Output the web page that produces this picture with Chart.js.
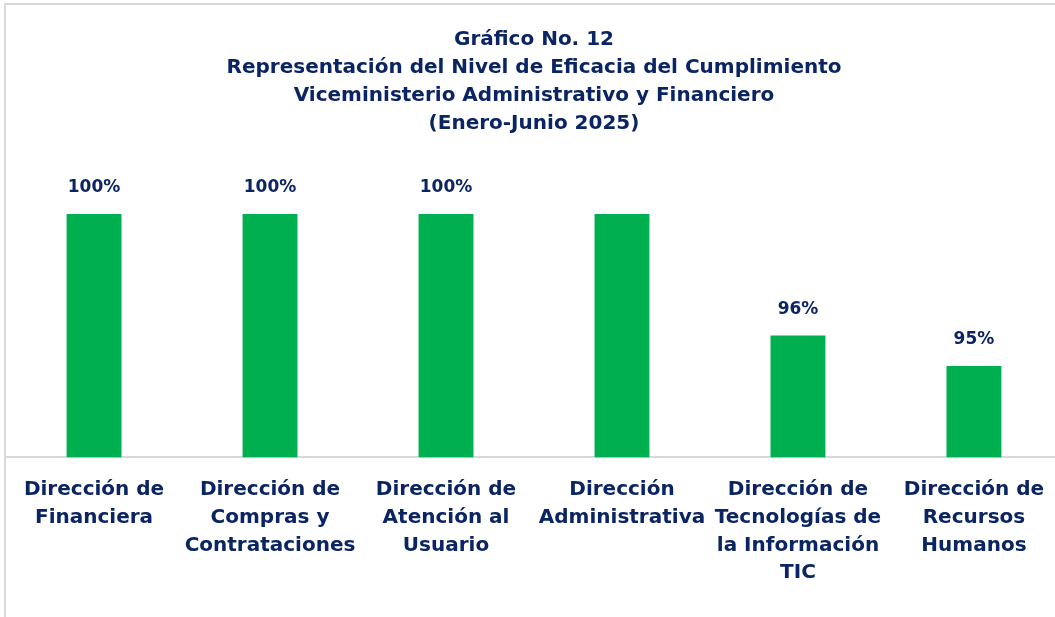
<!DOCTYPE html>
<html>
<head>
<meta charset="utf-8">
<style>
  html, body { margin: 0; padding: 0; background: #fff; overflow: hidden; }
  #frame { position: absolute; left: 4px; top: 3px; width: 1070px; height: 640px;
           border: 2px solid #d9d9d9; }
  #wrap { position: absolute; left: -1px; top: 0; width: 1058px; height: 612px; }
</style>
</head>
<body>
<div id="frame">
  <div id="wrap"><canvas id="eficacia"></canvas></div>
</div>

<script src="https://cdn.jsdelivr.net/npm/chart.js@4/dist/chart.umd.min.js"></script>
<script>
/* datos del gráfico */
var categorias = [
    ["Dirección de", "Financiera"],
    ["Dirección de", "Compras y", "Contrataciones"],
    ["Dirección de", "Atención al", "Usuario"],
    ["Dirección", "Administrativa"],
    ["Dirección de", "Tecnologías de", "la Información", "TIC"],
    ["Dirección de", "Recursos", "Humanos"]
];
var eficacia = [100, 100, 100, 100, 96, 95];
var etiquetas = ["100%", "100%", "100%", "", "96%", "95%"];
var titulo = [
    "Gráfico No. 12",
    "Representación del Nivel de Eficacia del Cumplimiento",
    "Viceministerio Administrativo y Financiero",
    "(Enero-Junio 2025)"
];

var azul = "#0b2463";
var fuente = "'DejaVu Sans', sans-serif";

/* etiquetas encima de las barras */
var etiquetasBarras = {
    id: "etiquetasBarras",
    afterDatasetsDraw: function (chart) {
        var ctx = chart.ctx;
        var meta = chart.getDatasetMeta(0);
        ctx.save();
        ctx.font = "bold 17px " + fuente;
        ctx.fillStyle = azul;
        ctx.textAlign = "center";
        ctx.textBaseline = "middle";
        meta.data.forEach(function (bar, i) {
            if (etiquetas[i]) ctx.fillText(etiquetas[i], bar.x, bar.y - 26);
        });
        ctx.restore();
    }
};

var ctx = document.getElementById("eficacia");
var grafico = new Chart(ctx, {
    type: "bar",
    data: {
        labels: categorias,
        datasets: [{
            data: eficacia,
            backgroundColor: "#00B050",
            borderWidth: 0,
            categoryPercentage: 1,
            barPercentage: 0.312
        }]
    },
    options: {
        responsive: true,
        maintainAspectRatio: false,
        animation: false,
        layout: { padding: { top: 21, bottom: 11, left: 0, right: 0 } },
        plugins: {
            legend: { display: false },
            tooltip: { enabled: false },
            title: {
                display: true,
                text: titulo,
                color: azul,
                font: { family: fuente, size: 20, weight: "bold", lineHeight: 28 / 20 },
                padding: { top: 0, bottom: 76 }
            }
        },
        scales: {
            x: {
                grid: { display: false, drawTicks: false },
                border: { display: true, color: "#d9d9d9", width: 2 },
                ticks: {
                    color: azul,
                    font: { family: fuente, size: 20, weight: "bold", lineHeight: 27.7 / 20 },
                    padding: 19,
                    maxRotation: 0,
                    autoSkip: false
                }
            },
            y: {
                display: false,
                min: 92,
                max: 100
            }
        }
    },
    plugins: [etiquetasBarras]
});
</script>
</body>
</html>
